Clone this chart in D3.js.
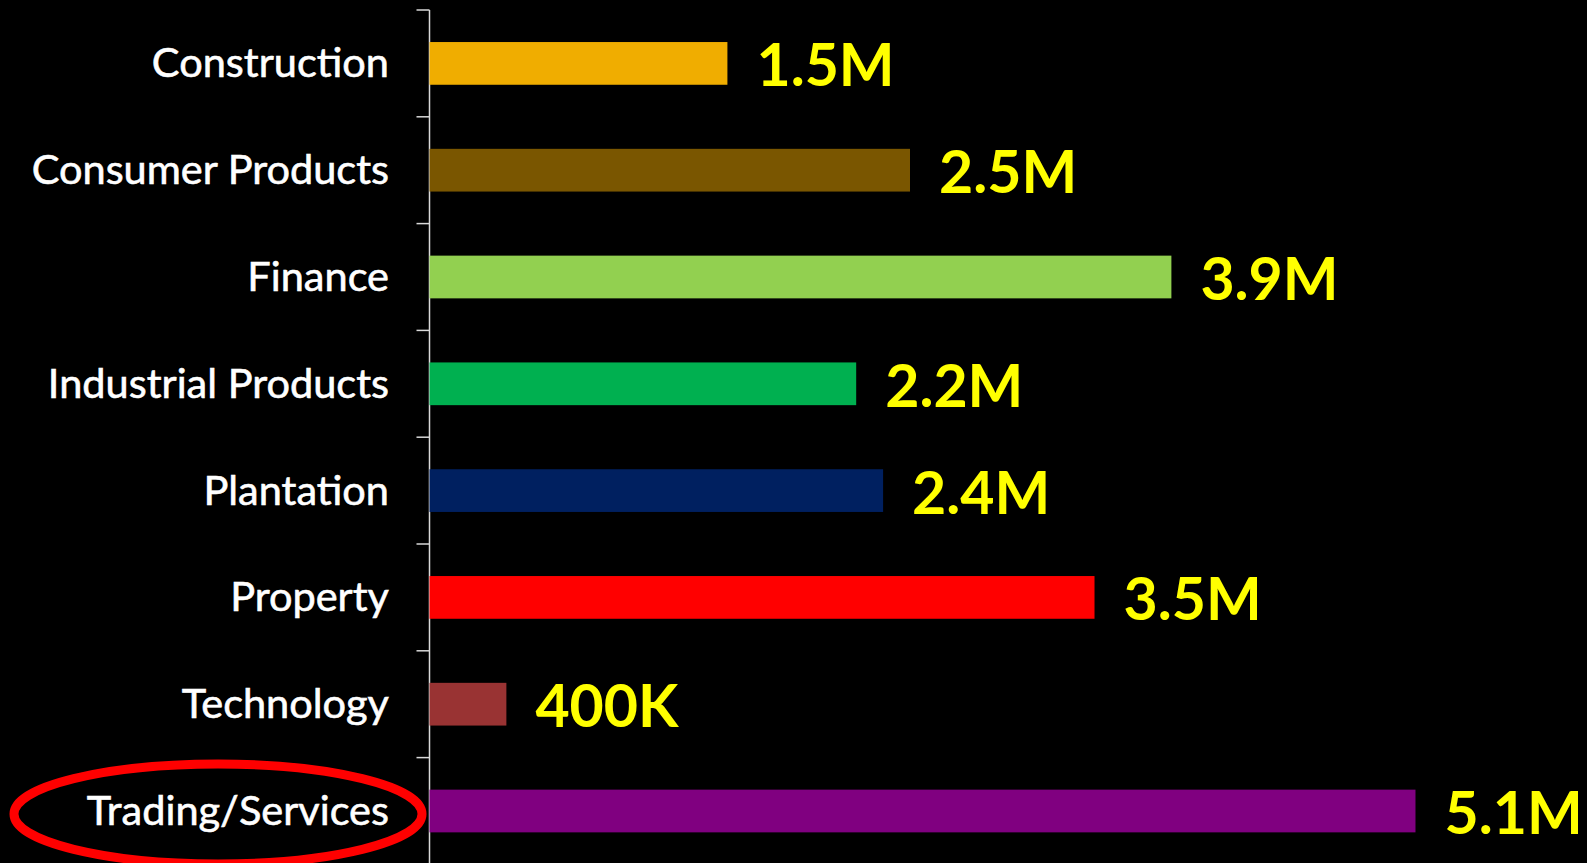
<!DOCTYPE html>
<html>
<head>
<meta charset="utf-8">
<script src="https://cdn.jsdelivr.net/npm/d3@7"></script>
<style>
  html, body { margin: 0; padding: 0; background: #000; }
  svg { display: block; }
</style>
</head>
<body>
<svg id="chart" width="1587" height="863"></svg>
<script>
const categories = ["Construction", "Consumer Products", "Finance", "Industrial Products", "Plantation", "Property", "Technology", "Trading/Services"];
const values = [1.55, 2.50, 3.86, 2.22, 2.36, 3.46, 0.40, 5.13]; // millions
const valueLabels = ["1.5M", "2.5M", "3.9M", "2.2M", "2.4M", "3.5M", "400K", "5.1M"];
const colors = ["#F0AD00", "#7A5600", "#92D050", "#00B050", "#002060", "#FF0000", "#993333", "#800080"];
const highlighted = "Trading/Services";

const W = 1587, H = 863;
const svg = d3.select("#chart");
svg.append("rect").attr("width", W).attr("height", H).attr("fill", "#000");

const axisX = 429.5;
const x = d3.scaleLinear().domain([0, 6]).range([axisX, axisX + 6 * 192.2]);
const y = d3.scaleBand().domain(categories).range([10, 864.4]).paddingInner(0.6).paddingOuter(0.3);

// axis line and boundary ticks
const step = y.step();
const gap = (step - y.bandwidth()) / 2;
svg.append("line")
  .attr("x1", axisX).attr("x2", axisX)
  .attr("y1", 10).attr("y2", H)
  .attr("stroke", "#d9d9d9").attr("stroke-width", 1.5);
svg.selectAll("line.tick").data(categories).join("line")
  .attr("class", "tick")
  .attr("x1", axisX - 13).attr("x2", axisX)
  .attr("y1", d => y(d) - gap).attr("y2", d => y(d) - gap)
  .attr("stroke", "#d9d9d9").attr("stroke-width", 1.5);

// bars
svg.selectAll("rect.bar").data(categories).join("rect")
  .attr("class", "bar")
  .attr("x", x(0))
  .attr("y", d => y(d))
  .attr("width", (d, i) => x(values[i]) - x(0))
  .attr("height", y.bandwidth())
  .attr("fill", (d, i) => colors[i]);

// category labels
svg.selectAll("text.cat").data(categories).join("text")
  .attr("class", "cat")
  .attr("x", 389)
  .attr("y", d => y(d) + y.bandwidth() / 2 + 14)
  .attr("text-anchor", "end")
  .attr("fill", "#fff")
  .attr("stroke", "#fff")
  .attr("stroke-width", 0.6)
  .style("font-family", "Lato, 'Open Sans', sans-serif")
  .style("font-size", "41.5px")
  .text(d => d);

// value labels
svg.selectAll("text.val").data(categories).join("text")
  .attr("class", "val")
  .attr("x", (d, i) => x(values[i]) + 29)
  .attr("y", d => y(d) + y.bandwidth() / 2 + 23)
  .attr("fill", "#FFFF00")
  .style("font-family", "Lato, 'Open Sans', sans-serif")
  .style("font-weight", "bold")
  .style("font-size", "59px")
  .text((d, i) => valueLabels[i]);

// highlight ellipse
svg.append("ellipse")
  .attr("cx", 218)
  .attr("cy", y(highlighted) + y.bandwidth() / 2 + 3)
  .attr("rx", 204)
  .attr("ry", 50)
  .attr("fill", "none")
  .attr("stroke", "#FF0000")
  .attr("stroke-width", 9);
</script>
</body>
</html>
